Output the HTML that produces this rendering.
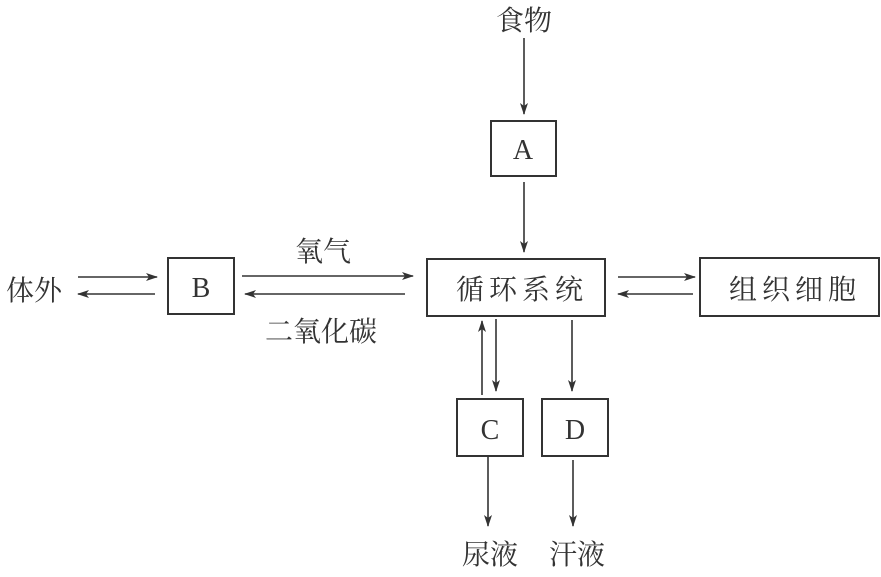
<!DOCTYPE html>
<html><head><meta charset="utf-8"><style>
body{margin:0;background:#fff}
svg text{font-family:"Liberation Serif","Noto Serif CJK SC",serif;fill:#333}
</style></head><body>
<svg width="881" height="572" viewBox="0 0 881 572" xmlns="http://www.w3.org/2000/svg">
<defs><marker id="a" markerWidth="12" markerHeight="8" refX="11" refY="4" orient="auto" markerUnits="userSpaceOnUse"><path d="M0,0 L12,4 L0,8 L3,4 Z" fill="#333"/></marker></defs>
<g stroke="#333" stroke-width="2" fill="none">
<rect x="491" y="121" width="65" height="55"/>
<rect x="168" y="258" width="66" height="56"/>
<rect x="427" y="259" width="178" height="57"/>
<rect x="700" y="258" width="179" height="58"/>
<rect x="457" y="399" width="66" height="57"/>
<rect x="542" y="399" width="66" height="57"/>
</g>
<g stroke="#333" stroke-width="1.6" marker-end="url(#a)">
<line x1="524" y1="38" x2="524" y2="114"/>
<line x1="524" y1="182" x2="524" y2="252"/>
<line x1="78" y1="277" x2="157" y2="277"/>
<line x1="155" y1="294" x2="78" y2="294"/>
<line x1="242" y1="276" x2="413" y2="276"/>
<line x1="405" y1="294" x2="245" y2="294"/>
<line x1="618" y1="277" x2="695" y2="277"/>
<line x1="693" y1="294" x2="618" y2="294"/>
<line x1="482" y1="395" x2="482" y2="321"/>
<line x1="496" y1="319" x2="496" y2="391"/>
<line x1="572" y1="320" x2="572" y2="391"/>
<line x1="488" y1="456" x2="488" y2="526"/>
<line x1="573" y1="460" x2="573" y2="526"/>
</g>
<g font-size="28" text-anchor="middle">
<text x="524" y="30">食物</text>
<text x="523" y="159">A</text>
<text x="201" y="297">B</text>
<text x="490" y="439">C</text>
<text x="575" y="439">D</text>
<text x="34" y="300">体外</text>
<text x="323" y="261">氧气</text>
<text x="321" y="341">二氧化碳</text>
<text x="522" y="299" letter-spacing="5">循环系统</text>
<text x="795" y="299" letter-spacing="5">组织细胞</text>
<text x="490" y="564">尿液</text>
<text x="577" y="564">汗液</text>
</g>
</svg>
</body></html>
